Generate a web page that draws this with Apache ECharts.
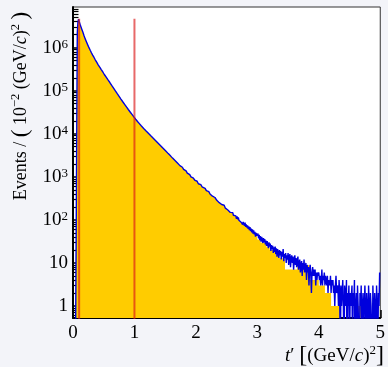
<!DOCTYPE html>
<html>
<head>
<meta charset="utf-8">
<script src="https://cdn.jsdelivr.net/npm/echarts@6/dist/echarts.min.js"></script>
<style>
  html, body { margin: 0; padding: 0; background: #f3f4f9; }
  #chart { width: 388px; height: 367px; }
</style>
</head>
<body>
<div id="chart"></div>
<script>
// t' histogram, bins of 0.01 (GeV/c)^2, events per bin
const binWidth = 0.01;

// t' = 0.00 .. 0.99
const countsLow = [
  0, 0, 0, 0, 0, 0, 0, 2.2e6, 3.9e6, 4.6e6,
  4.1e6, 3.7e6, 3.3e6, 3.0e6, 2.75e6, 2.5e6, 2.3e6, 2.1e6, 1.9e6, 1.74e6,
  1.58e6, 1.47e6, 1.36e6, 1.25e6, 1.16e6, 1.07e6, 1.0e6, 9.3e5, 8.7e5, 8.1e5,
  7.6e5, 7.1e5, 6.7e5, 6.3e5, 6.0e5, 5.6e5, 5.3e5, 5.0e5, 4.8e5, 4.5e5,
  4.3e5, 4.0e5, 3.8e5, 3.6e5, 3.45e5, 3.3e5, 3.1e5, 2.9e5, 2.8e5, 2.65e5,
  2.5e5, 2.38e5, 2.27e5, 2.16e5, 2.06e5, 1.96e5, 1.87e5, 1.78e5, 1.70e5, 1.62e5,
  1.55e5, 1.47e5, 1.40e5, 1.33e5, 1.27e5, 1.21e5, 1.15e5, 1.09e5, 1.04e5, 9.9e4,
  9.4e4, 8.96e4, 8.54e4, 8.14e4, 7.76e4, 7.39e4, 7.04e4, 6.71e4, 6.40e4, 6.10e4,
  5.81e4, 5.55e4, 5.30e4, 5.06e4, 4.83e4, 4.61e4, 4.40e4, 4.20e4, 4.01e4, 3.83e4,
  3.66e4, 3.50e4, 3.35e4, 3.21e4, 3.07e4, 2.94e4, 2.81e4, 2.69e4, 2.57e4, 2.46e4
];
// t' = 1.00 .. 1.99
const countsMid = [
  23500, 22600, 21700, 20900, 20100, 19300, 18600, 17900, 17200, 16600,
  16000, 15300, 14800, 14300, 13800, 13300, 12900, 12400, 12000, 11600,
  11200, 10830, 10470, 10130, 9790, 9470, 9160, 8850, 8560, 8280,
  8010, 7740, 7490, 7240, 7000, 6770, 6550, 6330, 6120, 5920,
  5730, 5540, 5360, 5180, 5010, 4840, 4680, 4530, 4380, 4240,
  4100, 3960, 3830, 3710, 3580, 3460, 3350, 3240, 3130, 3030,
  2930, 2850, 2720, 2660, 2540, 2490, 2390, 2330, 2230, 2180,
  2090, 2040, 1950, 1910, 1820, 1780, 1700, 1670, 1590, 1560,
  1490, 1460, 1390, 1370, 1300, 1280, 1220, 1200, 1140, 1120,
  1060, 1050, 1000, 990, 942, 931, 887, 877, 836, 827
];
// t' = 2.00 .. 2.99
const countsHigh = [
  781, 790, 737, 741, 690, 702, 655, 661, 610, 627,
  588, 571, 580, 532, 540, 498, 512, 479, 490, 447,
  452, 421, 436, 398, 411, 372, 389, 355, 347, 361,
  322, 331, 305, 318, 284, 297, 269, 283, 251, 266,
  243, 257, 228, 221, 236, 205, 219, 198, 187, 203,
  176, 191, 170, 181, 155, 167, 149, 162, 138, 151,
  147, 128, 139, 118, 131, 124, 106, 121, 103, 115,
  98, 108, 91, 104, 87, 95, 78, 90, 81, 73,
  86, 69, 79, 66, 75, 62, 71, 58, 68, 55,
  63, 51, 60, 48, 57, 46, 53, 41, 50, 43
];
// t' = 3.00 .. 4.99
const countsTail = [
  39, 48, 37, 45, 34, 42, 31, 40, 35, 29,
  38, 30, 36, 27, 33, 25, 32, 26, 22, 30,
  24, 28, 19, 26, 21, 25, 17, 23, 18, 24,
  16, 22, 14, 21, 17, 13, 20, 15, 19, 12,
  18, 14, 21, 11, 16, 13, 17, 10, 15, 12,
  17, 9, 14, 16, 8, 13, 15, 10, 14, 7,
  12, 15, 9, 13, 8, 11, 14, 7, 10, 12,
  6, 9, 11, 5, 10, 7, 12, 6, 8, 10,
  4, 9, 6, 8, 3, 7, 9, 5, 2, 6,
  8, 5, 7, 5, 7, 3, 6, 4, 6, 5,
  6, 4, 5, 3, 4, 7, 3, 5, 4, 6,
  3, 5, 4, 3, 5, 2, 4, 4, 3, 5,
  2, 4, 3, 4, 2, 3, 1, 3, 5, 2,
  2, 3, 1, 4, 2, 0, 3, 1, 2, 4,
  1, 0, 3, 2, 1, 4, 0, 2, 1, 3,
  0, 2, 1, 1, 3, 0, 2, 1, 4, 0,
  1, 2, 0, 3, 1, 1, 0, 2, 1, 3,
  0, 1, 2, 0, 1, 3, 1, 0, 2, 1,
  0, 3, 1, 0, 2, 1, 1, 0, 3, 1,
  0, 2, 1, 0, 3, 1, 0, 2, 1, 6
];

// filled histogram in the tail (t' >= 3), coarser steps
const fillStart = 3.0;
const fillStep = 0.05;
const fillTail = [
  35, 30, 27, 23, 20, 18, 15, 13, 12, 7,
  7, 7, 7, 9, 9, 9, 9, 4, 4, 4,
  3, 3, 2, 2, 1, 1, 1, 0, 0, 0,
  0, 0, 1, 1, 0, 0, 0, 0, 0, 0
];

// vertical cut lines
const cutValues = [0.1, 1.0];
const cutTop = 4.7e6;

const xRange = [0, 5];
const yRange = [0.526, 8.8e6];
const yMajorTicks = [1, 10, 100, 1e3, 1e4, 1e5, 1e6];
const yMinorTicks = [
  0.6, 0.7, 0.8, 0.9,
  2, 3, 4, 5, 6, 7, 8, 9,
  20, 30, 40, 50, 60, 70, 80, 90,
  200, 300, 400, 500, 600, 700, 800, 900,
  2e3, 3e3, 4e3, 5e3, 6e3, 7e3, 8e3, 9e3,
  2e4, 3e4, 4e4, 5e4, 6e4, 7e4, 8e4, 9e4,
  2e5, 3e5, 4e5, 5e5, 6e5, 7e5, 8e5, 9e5,
  2e6, 3e6, 4e6, 5e6, 6e6, 7e6, 8e6
];

const SERIF = "'Liberation Serif', 'DejaVu Serif', serif";
const zeroFloor = 0.05; // empty bins go below the axis and get clipped

const counts = countsLow.concat(countsMid, countsHigh, countsTail);
const pos = v => (v > 0 ? v : zeroFloor);

const lineData = counts.map((v, i) => [+(i * binWidth).toFixed(2), pos(v)]);
lineData.push([xRange[1], pos(counts[counts.length - 1])]);

const headBins = Math.round(fillStart / binWidth);
const fillData = counts.slice(0, headBins).map((v, i) => [+(i * binWidth).toFixed(2), pos(v)])
  .concat(fillTail.map((v, i) => [+(fillStart + i * fillStep).toFixed(2), pos(v)]));
fillData.push([xRange[1], pos(fillTail[fillTail.length - 1])]);

const cutSeries = cutValues.map(c => ({
  type: 'line',
  data: [[c, zeroFloor], [c, cutTop]],
  symbol: 'none',
  lineStyle: { color: 'rgba(220, 25, 25, 0.65)', width: 2 },
  silent: true,
  z: 5
}));

const chart = echarts.init(document.getElementById('chart'));

const option = {
  animation: false,
  backgroundColor: '#f3f4f9',
  grid: {
    left: 73, right: 4, top: 7, bottom: 49,
    show: true, backgroundColor: '#ffffff', borderColor: '#333', borderWidth: 1
  },
  xAxis: {
    type: 'value',
    min: xRange[0], max: xRange[1], interval: 1,
    axisLine: { onZero: false, lineStyle: { color: '#000', width: 2 } },
    axisTick: { inside: true, length: 8, lineStyle: { color: '#000', width: 1.5 } },
    minorTick: { show: true, splitNumber: 5, length: 4.5, lineStyle: { color: '#000', width: 1.5 } },
    axisLabel: { fontFamily: SERIF, fontSize: 19, color: '#000', margin: 6 },
    splitLine: { show: false }
  },
  yAxis: [
    {
      type: 'log', logBase: 10,
      min: yRange[0], max: yRange[1],
      axisLine: { show: true, lineStyle: { color: '#000', width: 2 } },
      axisTick: { inside: true, length: 11, customValues: yMajorTicks, lineStyle: { color: '#000', width: 1.5 } },
      axisLabel: {
        customValues: yMajorTicks,
        fontFamily: SERIF, fontSize: 19, color: '#000', margin: 5,
        formatter: v => {
          const e = Math.round(Math.log10(v));
          if (e === 0) return '1';
          if (e === 1) return '10';
          return '10{sup|' + e + '}';
        },
        rich: {
          sup: { fontFamily: SERIF, fontSize: 13, color: '#000', verticalAlign: 'top', lineHeight: 12 }
        }
      },
      splitLine: { show: false }
    },
    {
      type: 'log', logBase: 10,
      min: yRange[0], max: yRange[1],
      position: 'left',
      axisLine: { show: false },
      axisTick: { inside: true, length: 5.5, customValues: yMinorTicks, lineStyle: { color: '#000', width: 1.2 } },
      axisLabel: { show: false },
      splitLine: { show: false }
    }
  ],
  graphic: [
    {
      type: 'text',
      x: 21, y: 106,
      rotation: Math.PI / 2,
      style: {
        text: 'Events / {big|(} 10{sup|−2} (GeV/{it|c}){sup|2} {big|)}',
        font: '18px ' + SERIF,
        fill: '#000',
        textAlign: 'center',
        textVerticalAlign: 'middle',
        rich: {
          sup: { fontFamily: SERIF, fontSize: 12.5, verticalAlign: 'top', lineHeight: 11, fill: '#000' },
          it: { fontFamily: SERIF, fontSize: 18, fontStyle: 'italic', fill: '#000' },
          big: { fontFamily: SERIF, fontSize: 23, fill: '#000' }
        }
      }
    },
    {
      type: 'text',
      x: 384, y: 356,
      style: {
        text: '{it|t}′ {big|[}(GeV/{it|c}){sup|2}{big|]}',
        font: '19px ' + SERIF,
        fill: '#000',
        textAlign: 'right',
        textVerticalAlign: 'middle',
        rich: {
          sup: { fontFamily: SERIF, fontSize: 13, verticalAlign: 'top', lineHeight: 11, fill: '#000' },
          it: { fontFamily: SERIF, fontSize: 19, fontStyle: 'italic', fill: '#000' },
          big: { fontFamily: SERIF, fontSize: 24, fill: '#000' }
        }
      }
    }
  ],
  series: [
    {
      type: 'line',
      data: fillData,
      step: 'end',
      symbol: 'none',
      lineStyle: { width: 0 },
      areaStyle: { color: '#ffcc00', opacity: 1, origin: 'start' },
      silent: true,
      z: 2
    },
    {
      type: 'line',
      data: lineData,
      step: 'end',
      symbol: 'none',
      lineStyle: { color: '#0000dd', width: 1.4 },
      silent: true,
      z: 3
    }
  ].concat(cutSeries)
};

chart.setOption(option);
</script>
</body>
</html>
